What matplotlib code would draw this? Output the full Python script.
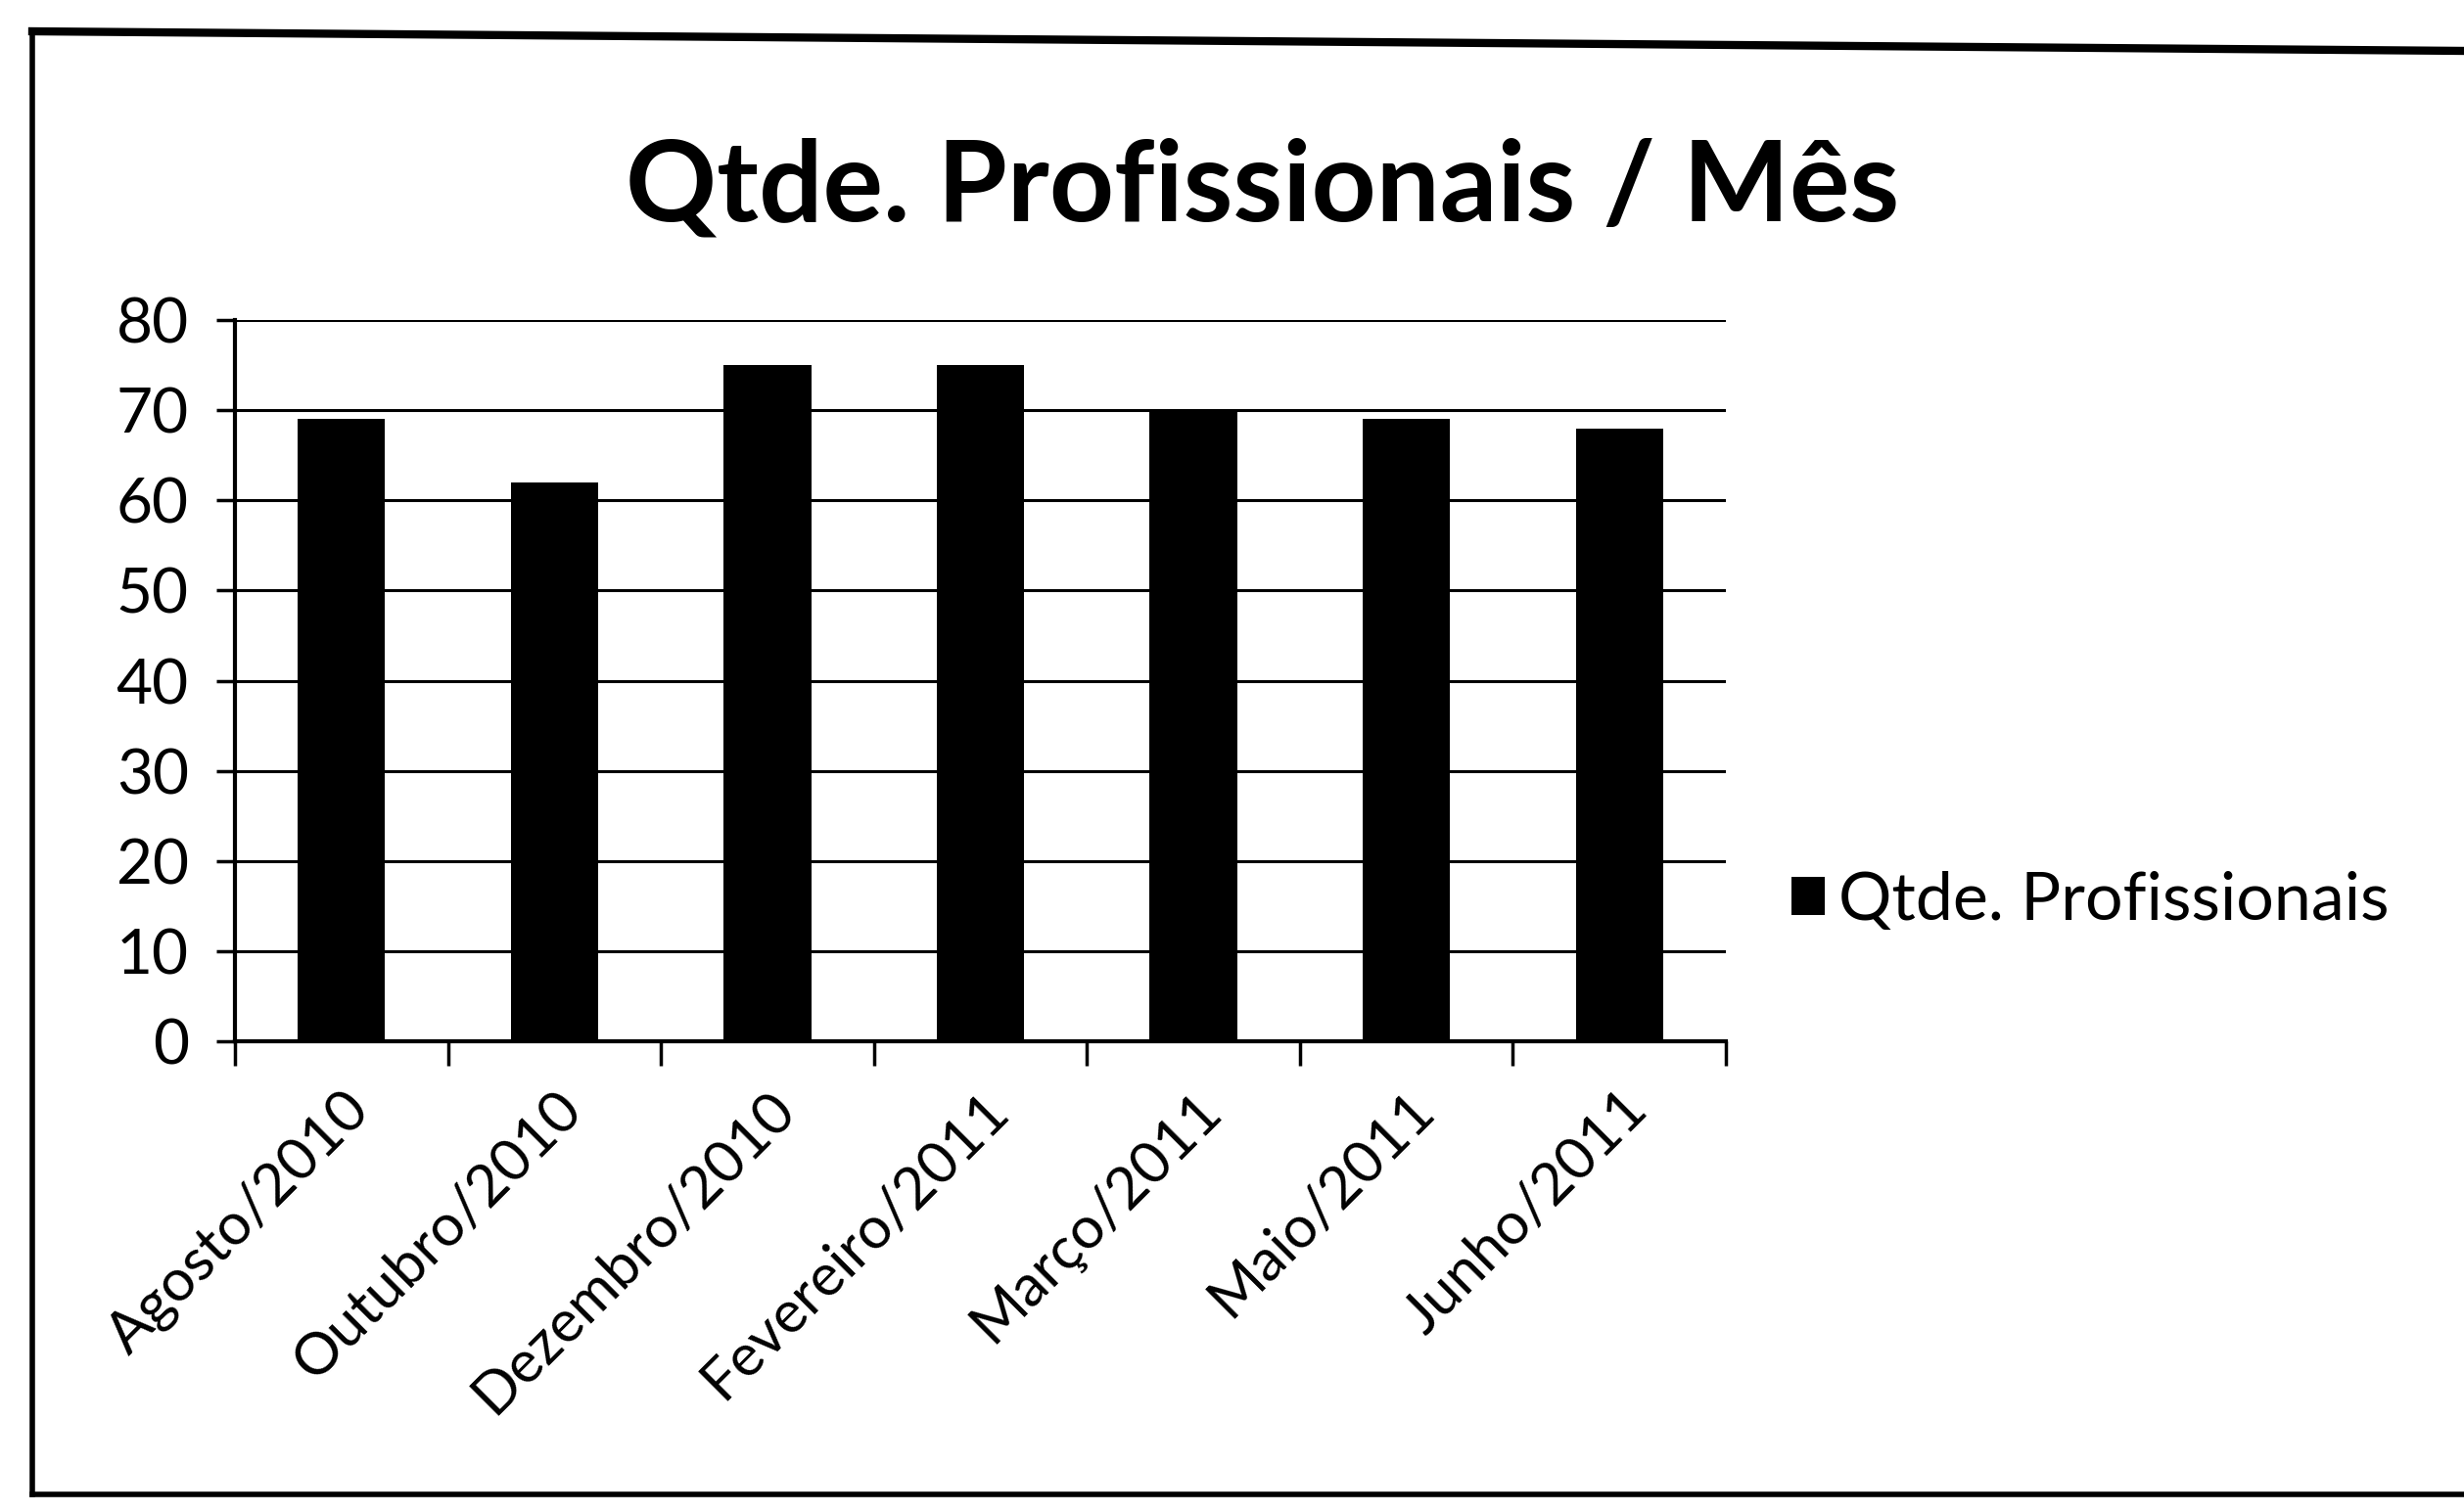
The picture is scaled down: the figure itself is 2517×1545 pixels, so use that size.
import numpy as np
import matplotlib
matplotlib.use('Agg')
from matplotlib import pyplot as plt
from matplotlib.lines import Line2D

meses = ['Agosto/2010', 'Outubro/2010', 'Dezembro/2010', 'Fevereiro/2011',
         'Março/2011', 'Maio/2011', 'Junho/2011']
profissionais = [69, 62, 75, 75, 70, 69, 68]
yticks = [0, 10, 20, 30, 40, 50, 60, 70, 80]

plt.rcParams['font.family'] = ['Lato', 'DejaVu Sans']

W, H = 2517, 1545
fig = plt.figure(figsize=(W / 100, H / 100), dpi=100)
fig.patch.set_facecolor('white')

# caixa em volta do grafico
lw_borda = 4
fig.add_artist(Line2D([33 / W, 33 / W], [1 - 32 / H, 1 - 1527 / H], color='black', lw=lw_borda))
fig.add_artist(Line2D([33 / W, 1.0], [1 - 32 / H, 1 - 52 / H], color='black', lw=6))
fig.add_artist(Line2D([33 / W, 1.0], [1 - 1527 / H, 1 - 1527 / H], color='black', lw=lw_borda))

ax = fig.add_axes([240 / W, 1 - 1064 / H, (1763 - 240) / W, (1064 - 327) / H])

x = np.arange(len(meses))
ax.bar(x, profissionais, width=0.41, color='black', label='Qtde. Profissionais', zorder=3)

ax.set_xlim(-0.5, len(meses) - 0.5)
ax.set_ylim(0, 80)
ax.set_yticks(yticks)
ax.set_yticklabels([str(v) for v in yticks])
ax.yaxis.grid(True, color='black', lw=2.2, zorder=1)

# ticks nos limites das categorias, rotulos no centro
ax.set_xticks(np.arange(len(meses) + 1) - 0.5)
ax.set_xticklabels([])
ax.set_xticks(x, meses, minor=True)
ax.tick_params(axis='x', which='major', direction='out', length=18, width=2.5, color='black')
ax.tick_params(axis='x', which='minor', length=0, pad=30, labelsize=43)
for lbl in ax.get_xticklabels(minor=True):
    lbl.set_rotation(45)
    lbl.set_ha('right')
    lbl.set_va('top')
    lbl.set_rotation_mode('anchor')
ax.tick_params(axis='y', direction='out', length=14, width=2.5, pad=20, labelsize=46)

for s in ['top', 'right']:
    ax.spines[s].set_visible(False)
for s in ['left', 'bottom']:
    ax.spines[s].set_linewidth(3)
    ax.spines[s].set_color('black')

fig.text(1290 / W, 1 - 225 / H, 'Qtde. Profissionais / Mês', ha='center', va='baseline',
         fontsize=83, fontweight='bold')

fig.legend(loc='center left', bbox_to_anchor=(1830 / W, 1 - 921 / H), frameon=False,
           fontsize=49, handlelength=0.5, handleheight=0.5, handletextpad=0.2,
           borderpad=0, borderaxespad=0)

fig.savefig('out.png', dpi=100)
